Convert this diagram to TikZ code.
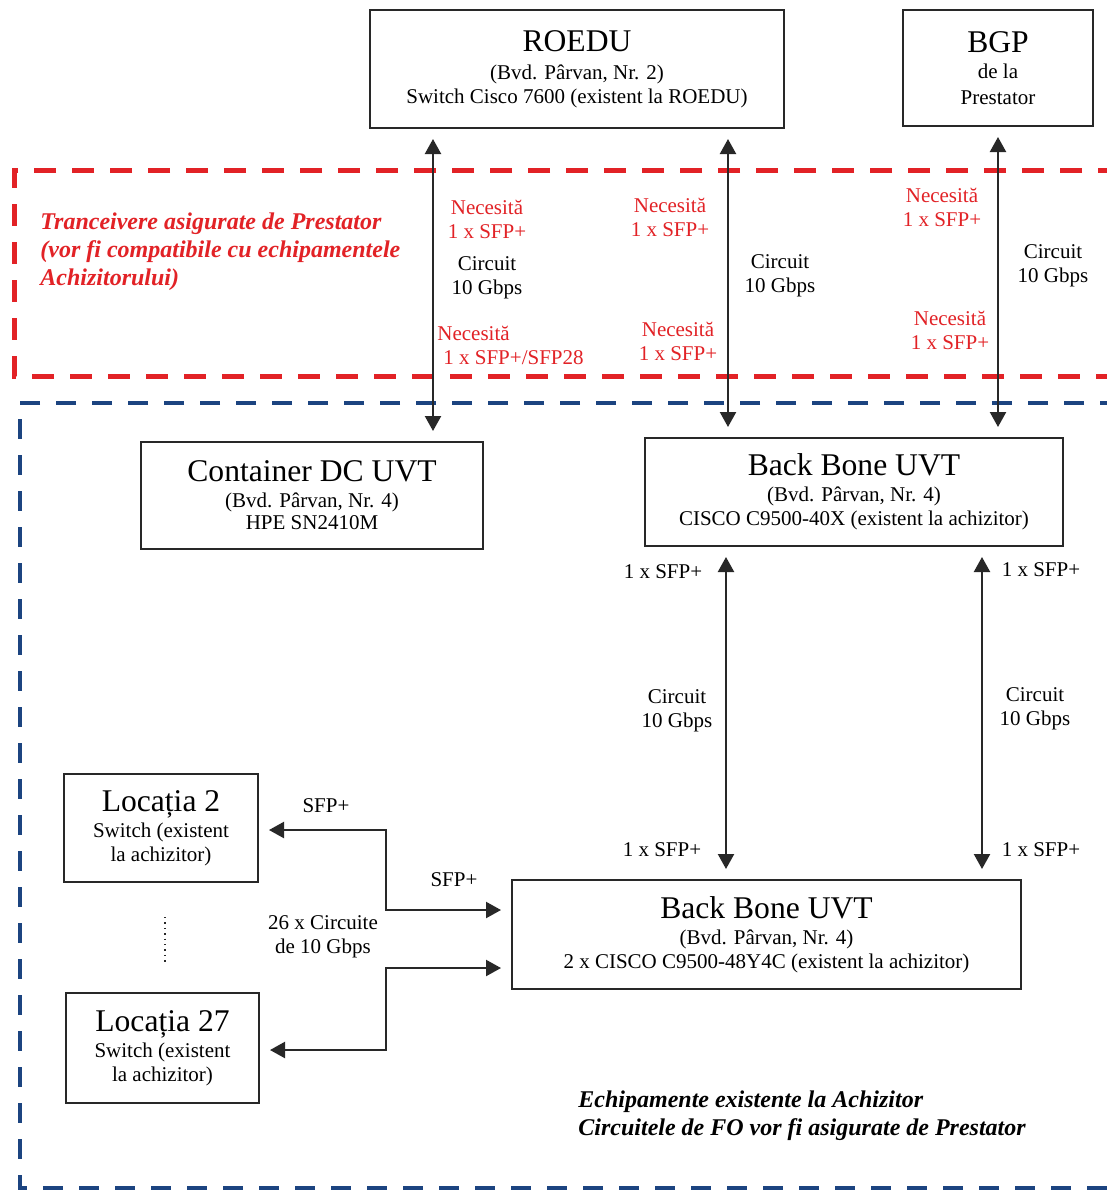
\documentclass[tikz,border=0pt]{standalone}
\usepackage{fontspec}
\setmainfont{Liberation Serif}
\usetikzlibrary{arrows.meta}
\definecolor{dred}{RGB}{226,34,38}
\definecolor{dblue}{RGB}{28,68,128}
\definecolor{ink}{RGB}{40,40,40}
\newcommand\fbody{\fontsize{10.5}{12}\selectfont}
\newcommand\ftitle{\fontsize{15.8}{18}\selectfont}
\newcommand\fnote{\fontsize{12}{14}\selectfont\bfseries\itshape}
\tikzset{
  box/.style={draw=ink, line width=1pt, inner sep=0pt, align=center, font=\fbody},
  lbl/.style={align=center, font=\fbody, inner sep=0pt, text=black},
  rlbl/.style={lbl, text=dred},
  dbl/.style={{Triangle[length=7.5pt,width=8pt]}-{Triangle[length=7.5pt,width=8pt]}, line width=1.1pt, draw=ink, shorten >=5pt, shorten <=5pt},
  reddash/.style={draw=dred, line width=2.5pt, dash pattern=on 11pt off 8pt},
  bluedash/.style={draw=dblue, line width=2.4pt, dash pattern=on 10pt off 8pt},
}
\begin{document}
\begin{tikzpicture}[x=0.5pt, y=-0.5pt]
\clip (0,0) rectangle (1107,1191);
\fill[white] (0,0) rectangle (1107,1191);

% dashed regions
\draw[reddash] (1120,170) -- (14,170) -- (14,376) -- (1120,376);
\draw[bluedash] (1120,403) -- (20,403) -- (20,1188) -- (1120,1188);

% boxes
\node[box, minimum width=207pt, minimum height=59pt] (roedu) at (577,69)
  {{\ftitle ROEDU}\\[2pt] (Bvd. Pârvan, Nr. 2)\\ Switch Cisco 7600 (existent la ROEDU)};
\node[box, minimum width=95pt, minimum height=58pt] (bgp) at (998,68)
  {{\ftitle BGP}\\[1pt] de la\\[1pt] Prestator};
\node[box, minimum width=171pt, minimum height=53.5pt] (cont) at (312,495.5)
  {{\ftitle Container DC UVT}\\[1pt] (Bvd. Pârvan, Nr. 4)\\[-1pt] HPE SN2410M};
\node[box, minimum width=209pt, minimum height=54pt] (bb1) at (854,492)
  {{\ftitle Back Bone UVT}\\[1pt] (Bvd. Pârvan, Nr. 4)\\ CISCO C9500-40X (existent la achizitor)};
\node[box, minimum width=254.5pt, minimum height=54.5pt] (bb2) at (766.5,934.5)
  {{\ftitle Back Bone UVT}\\[1pt] (Bvd. Pârvan, Nr. 4)\\ 2 x CISCO C9500-48Y4C (existent la achizitor)};
\node[box, minimum width=97pt, minimum height=54pt] (loc2) at (161,828)
  {{\ftitle Locația 2}\\[1pt] Switch (existent\\ la achizitor)};
\node[box, minimum width=96.5pt, minimum height=55pt] (loc27) at (162.5,1048)
  {{\ftitle Locația 27}\\[1pt] Switch (existent\\ la achizitor)};

% arrow columns
\coordinate (c1) at (433,0);
\coordinate (c2) at (728,0);
\coordinate (c3) at (998,0);
\coordinate (c4) at (726,0);
\coordinate (c5) at (982,0);
\draw[dbl] (roedu.south -| c1) -- (cont.north -| c1);
\draw[dbl] (roedu.south -| c2) -- (bb1.north -| c2);
\draw[dbl] (bgp.south -| c3) -- (bb1.north -| c3);
\draw[dbl] (bb1.south -| c4) -- (bb2.north -| c4);
\draw[dbl] (bb1.south -| c5) -- (bb2.north -| c5);

% location connectors
\coordinate (j1) at (386,830);
\coordinate (j2) at (386,910);
\coordinate (j3) at (386,968);
\coordinate (j4) at (386,1050);
\draw[dbl] (loc2.east |- j1) -- (j1) -- (j2) -- (bb2.west |- j2);
\draw[dbl] (loc27.east |- j4) -- (j4) -- (j3) -- (bb2.west |- j3);
\draw[dotted, line width=0.7pt, draw=ink] (165,917) -- (165,962);

% red title
\node[anchor=west, align=left, text=dred, font=\fnote, inner sep=0pt] (tr) at (40,252)
  {Tranceivere asigurate de Prestator\\(vor fi compatibile cu echipamentele\\Achizitorului)};

% labels column 1
\node[rlbl] (n1a) at (487,219) {Necesită\\1 x SFP+};
\node[lbl] (n1b) at (487,278) {Circuit\\10 Gbps};
\node[rlbl, align=left, anchor=west] (n1c) at (437,345) {Necesită\\\hspace*{3pt}1 x SFP+/SFP28};
% column 2
\node[rlbl] (n2a) at (670,217) {Necesită\\1 x SFP+};
\node[lbl] (n2b) at (780,276) {Circuit\\10 Gbps};
\node[rlbl] (n2c) at (678,341) {Necesită\\1 x SFP+};
% column 3
\node[rlbl] (n3a) at (942,207) {Necesită\\1 x SFP+};
\node[lbl] (n3b) at (1053,266) {Circuit\\10 Gbps};
\node[rlbl] (n3c) at (950,330) {Necesită\\1 x SFP+};

% middle labels
\node[lbl] (m1) at (663,572) {1 x SFP+};
\node[lbl] (m2) at (1041,570) {1 x SFP+};
\node[lbl] (m3) at (677,711) {Circuit\\10 Gbps};
\node[lbl] (m4) at (1035,709) {Circuit\\10 Gbps};
\node[lbl] (m5) at (662,850) {1 x SFP+};
\node[lbl] (m6) at (1041,850) {1 x SFP+};

% location labels
\node[lbl] (s1) at (326,806) {SFP+};
\node[lbl] (s2) at (454,880) {SFP+};
\node[lbl] (s3) at (323,937) {26 x Circuite\\de 10 Gbps};

% bottom note
\node[anchor=west, align=left, font=\fnote, inner sep=0pt] (note) at (578,1116)
  {Echipamente existente la Achizitor\\Circuitele de FO vor fi asigurate de Prestator};
\end{tikzpicture}
\end{document}
